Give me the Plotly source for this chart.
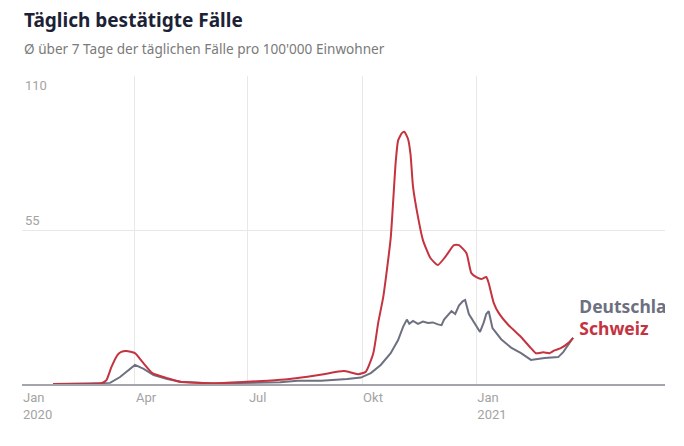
import plotly.graph_objects as go
import pandas as pd

# ---- data (7-day avg of daily cases per 100'000) ----
ch_dates = ["2020-01-26", "2020-02-25", "2020-03-05", "2020-03-09", "2020-03-13", "2020-03-18",
            "2020-03-21", "2020-03-25", "2020-04-01", "2020-04-07", "2020-04-15", "2020-04-27",
            "2020-05-07", "2020-06-03", "2020-06-30", "2020-07-17", "2020-08-02", "2020-08-18",
            "2020-08-31", "2020-09-16", "2020-09-23", "2020-09-28", "2020-10-04", "2020-10-10",
            "2020-10-14", "2020-10-18", "2020-10-24", "2020-10-28", "2020-10-30", "2020-11-02",
            "2020-11-04", "2020-11-07", "2020-11-09", "2020-11-11", "2020-11-15", "2020-11-19",
            "2020-11-25", "2020-12-01", "2020-12-07", "2020-12-14", "2020-12-18", "2020-12-24",
            "2020-12-28", "2021-01-01", "2021-01-05", "2021-01-09", "2021-01-11", "2021-01-15",
            "2021-01-19", "2021-01-27", "2021-02-06", "2021-02-14", "2021-02-18", "2021-02-24",
            "2021-03-01", "2021-03-05", "2021-03-10", "2021-03-16", "2021-03-20"]
ch_values = [0, 0, 0.3, 1.4, 6, 10.4,
             11.5, 11.8, 11, 7.9, 3.9, 2.1,
             0.8, 0.3, 0.8, 1.2, 1.7, 2.6,
             3.5, 4.6, 4.0, 3.5, 4.4, 11,
             22, 31, 52, 79, 87, 89.6,
             90.1, 87.5, 82, 70.5, 59.7, 51.4,
             45, 42.5, 45.4, 49.6, 49.6, 46.8,
             39.6, 38.2, 37.5, 38.2, 36, 29,
             25.4, 21, 16.8, 12.8, 11, 11.3,
             11, 12, 12.8, 14.6, 16.5]

de_dates = ["2020-01-26", "2020-03-04", "2020-03-12", "2020-03-20", "2020-03-27", "2020-04-01",
            "2020-04-08", "2020-04-16", "2020-04-27", "2020-05-08", "2020-06-03", "2020-06-30",
            "2020-07-27", "2020-08-10", "2020-08-29", "2020-09-19", "2020-09-30", "2020-10-08",
            "2020-10-16", "2020-10-24", "2020-10-30", "2020-11-03", "2020-11-06", "2020-11-08",
            "2020-11-11", "2020-11-15", "2020-11-19", "2020-11-23", "2020-11-27", "2020-12-01",
            "2020-12-04", "2020-12-06", "2020-12-09", "2020-12-12", "2020-12-15", "2020-12-18",
            "2020-12-21", "2020-12-23", "2020-12-26", "2020-12-30", "2021-01-04", "2021-01-07",
            "2021-01-09", "2021-01-11", "2021-01-14", "2021-01-21", "2021-01-29", "2021-02-06",
            "2021-02-14", "2021-02-25", "2021-03-08", "2021-03-12", "2021-03-17", "2021-03-20"]
de_values = [0, 0.2, 0.4, 2.5, 5, 6.8,
             5.4, 3.2, 1.8, 0.8, 0.2, 0.3,
             0.6, 1.2, 1.2, 1.8, 2.3, 3.9,
             6.8, 11, 15.7, 20.4, 23, 21.5,
             22.5, 21.5, 22.3, 21.8, 22, 21.3,
             21, 23, 24.5, 26, 25, 28,
             29.5, 30, 25, 22, 18.6, 22,
             25, 26, 20, 16, 13, 11,
             8.6, 9.3, 9.6, 11.4, 14.6, 16.5]

series_names = ["Deutschland", "Schweiz"]
y_ticks = [55, 110]
x_tickvals = ["2020-01-01", "2020-04-01", "2020-07-01", "2020-10-01", "2021-01-01"]
x_ticktext = ["Jan<br>2020", "Apr", "Jul", "Okt", "Jan<br>2021"]

RED = "#c4333f"
GREY = "#6d7080"

fig = go.Figure()
fig.add_trace(go.Scatter(x=pd.to_datetime(de_dates), y=de_values, mode="lines",
                         line=dict(color=GREY, width=2), name=series_names[0],
                         hoverinfo="skip"))
fig.add_trace(go.Scatter(x=pd.to_datetime(ch_dates), y=ch_values, mode="lines",
                         line=dict(color=RED, width=2, shape="spline", smoothing=0.5),
                         name=series_names[1], hoverinfo="skip"))

# end labels (clipped by plot area like in the reference)
end_x = pd.to_datetime(ch_dates[-1]) + pd.Timedelta(days=5)
fig.add_trace(go.Scatter(x=[end_x, end_x], y=[de_values[-1] + 10.3, ch_values[-1] + 2.4],
                         mode="text", text=series_names, textposition="middle right",
                         textfont=dict(family="Noto Sans", size=17.5, color=[GREY, RED],
                                       weight="bold"),
                         cliponaxis=True, hoverinfo="skip"))

fig.update_layout(
    width=684, height=446,
    margin=dict(l=22, r=19, t=76, b=62),
    paper_bgcolor="white", plot_bgcolor="white",
    showlegend=False,
    font=dict(family="Noto Sans"),
)
fig.update_xaxes(
    type="date", range=["2020-01-01", "2021-06-02"],
    tickvals=x_tickvals, ticktext=x_ticktext,
    ticklabelposition="outside right",
    tickfont=dict(family="Roboto", size=13, color="#a3a3a3"),
    showgrid=True, gridcolor="#e8e8e8", gridwidth=1,
    showline=True, linecolor="#a4a4ac", linewidth=2,
    ticks="", zeroline=False, fixedrange=True,
)
fig.update_yaxes(
    range=[0, 110], tickvals=y_ticks, showticklabels=False,
    showgrid=True, gridcolor="#e8e8e8", gridwidth=1,
    zeroline=False, showline=False, fixedrange=True,
)

annotations = [
    dict(text="<b>Täglich bestätigte Fälle</b>", xref="paper", yref="paper",
         x=0, y=(384 - 20) / 308, xanchor="left", yanchor="middle", showarrow=False,
         font=dict(family="Noto Sans", size=19, color="#1c2236")),
    dict(text="Ø über 7 Tage der täglichen Fälle pro 100'000 Einwohner", xref="paper",
         yref="paper", x=0, y=(384 - 48) / 308, xanchor="left", yanchor="middle",
         showarrow=False, font=dict(family="Noto Sans", size=13.6, color="#7a7a7a")),
    dict(text=str(y_ticks[1]), xref="paper", yref="y", x=0, y=y_ticks[1], xanchor="left",
         yanchor="top", xshift=1, showarrow=False,
         font=dict(family="Roboto", size=13, color="#a3a3a3")),
    dict(text=str(y_ticks[0]), xref="paper", yref="y", x=0, y=y_ticks[0], xanchor="left",
         yanchor="bottom", xshift=1, showarrow=False,
         font=dict(family="Roboto", size=13, color="#a3a3a3")),
]
fig.update_layout(annotations=annotations)

fig.write_html("out.html")
